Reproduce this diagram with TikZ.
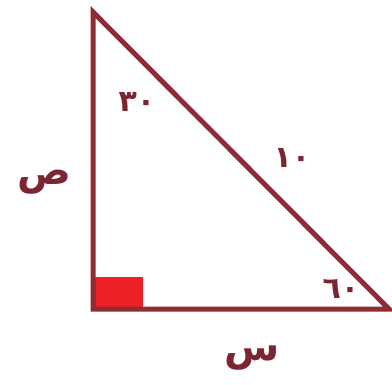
\documentclass[tikz,border=0pt]{standalone}
\usepackage{fontspec}
\newfontfamily\arabicfont[Script=Arabic]{DejaVu Sans Bold}
\newfontfamily\digitfont{DejaVu Sans Bold}
\definecolor{edge}{HTML}{8E2B35}
\definecolor{txt}{HTML}{7A2530}
\definecolor{sq}{HTML}{EE2028}
\tikzset{
  side/.style={draw=edge, line width=5pt, line join=miter},
  lbl/.style={text=txt, inner sep=0pt, font=\arabicfont\fontsize{40}{44}\selectfont},
  num/.style={text=txt, inner sep=0pt, font=\digitfont\fontsize{30}{34}\selectfont}
}
\begin{document}
\begin{tikzpicture}[x=1pt,y=-1pt]
\useasboundingbox (0,0) rectangle (392,384);
\coordinate (A) at (93,12);
\coordinate (B) at (93,309);
\coordinate (C) at (389,309);
\fill[sq] (93,277) rectangle (143,309);
\draw[side] (A) -- (B) -- (C) -- cycle;
\node[num] (a30) at (137,102) {٣٠};
\node[num] (a10) at (292,158) {١٠};
\node[num] (a60) at (341,289) {٦٠};
\node[lbl] (ys) at (44,182) {ص};
\node[lbl] (xs) at (252,358) {س};
\end{tikzpicture}
\end{document}
